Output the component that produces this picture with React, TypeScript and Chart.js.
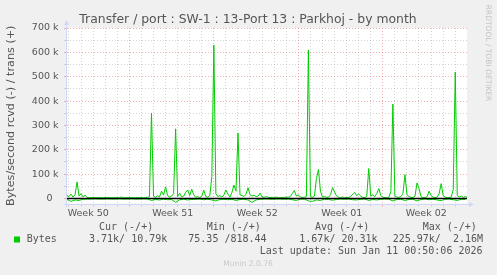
import React, { useEffect, useRef } from 'react';
import { Chart, registerables } from 'chart.js';

Chart.register(...registerables);

const TITLE = 'Transfer / port : SW-1 : 13-Port 13 : Parkhoj - by month';
const Y_TITLE = 'Bytes/second rcvd (-) / trans (+)';
const SIDE_TEXT = 'RRDTOOL / TOBI OETIKER';
const FOOTER = 'Munin 2.0.76';
const LAST_UPDATE = 'Last update: Sun Jan 11 00:50:06 2026';

// x axis in days counted from Monday 8 Dec 2025 (start of Week 50)
const X_MIN = 1.84;
const X_MAX = 34.98;
const WEEK_LABELS = ['Week 50', 'Week 51', 'Week 52', 'Week 01', 'Week 02'];
const WEEK_LABEL_POS = [3.6, 10.6, 17.6, 24.6, 31.6];

// y ticks (k bytes/s)
const Y_MIN = -20.5;
const Y_MAX = 700;
const Y_TICKS = [0, 50, 100, 150, 200, 250, 300, 350, 400, 450, 500, 550, 600, 650, 700];

// trans (+), one value every 4 hours, in kB/s
const TRANS_STEP = 1 / 6;
const TRANS_K = [
  12, 8, 18, 6, 15, 68, 10, 20, 6, 14,
  4, 3, 4, 3, 4, 3, 4, 3, 3, 4,
  3, 4, 3, 3, 4, 3, 3, 6, 4, 3,
  4, 3, 4, 3, 3, 4, 3, 4, 3, 3,
  5, 8, 351, 10, 4, 12, 6, 30, 14, 48,
  12, 6, 10, 20, 286, 8, 22, 6, 10, 25,
  35, 12, 38, 15, 5, 8, 4, 10, 34, 8,
  6, 12, 91, 630, 20, 8, 12, 6, 15, 35,
  18, 6, 25, 55, 30, 269, 15, 12, 8, 18,
  44, 15, 10, 14, 8, 10, 22, 6, 5, 8,
  5, 4, 5, 3, 6, 4, 3, 5, 4, 6,
  5, 8, 20, 33, 10, 15, 6, 4, 5, 8,
  610, 8, 5, 10, 82, 119, 30, 6, 8, 5,
  6, 15, 45, 27, 10, 5, 4, 6, 3, 5,
  4, 8, 18, 25, 12, 18, 10, 5, 4, 8,
  123, 10, 15, 8, 20, 41, 12, 5, 4, 3,
  5, 30, 388, 10, 6, 5, 8, 20, 98, 15,
  8, 5, 4, 10, 64, 41, 8, 4, 3, 8,
  30, 12, 5, 4, 6, 20, 61, 12, 5, 3,
  4, 6, 37, 519, 12, 6, 10, 4, 8, 5,
];

// rcvd (-), one value every 8 hours, in kB/s
const RCVD_STEP = 1 / 3;
const RCVD_K = [
  -4, -12, -6, -8, -3, -2, -2, -1, -2, -2,
  -1, -2, -2, -1, -2, -2, -1, -2, -2, -1,
  -2, -8, -4, -6, -3, -5, -4, -16, -5, -3,
  -6, -4, -3, -2, -5, -3, -6, -10, -4, -3,
  -5, -3, -8, -4, -3, -6, -16, -6, -3, -2,
  -2, -3, -2, -2, -3, -2, -5, -8, -3, -2,
  -10, -12, -6, -8, -3, -4, -7, -4, -2, -3,
  -2, -5, -6, -3, -2, -8, -4, -6, -3, -2,
  -3, -10, -4, -3, -8, -4, -3, -10, -4, -2,
  -5, -3, -6, -9, -3, -2, -5, -8, -3, -4,
];

const SERIES_NAME = 'Bytes';
const SERIES_COLOR = '#00cc00';
const LEGEND_HEADERS = ['Cur (-/+)', 'Min (-/+)', 'Avg (-/+)', 'Max (-/+)'];
const LEGEND_VALUES = ['3.71k/ 10.79k', '75.35 /818.44', '1.67k/ 20.31k', '225.97k/  2.16M'];

const GRID_MINOR = 'rgba(175,175,175,0.55)';
const GRID_MAJOR = 'rgba(235,120,120,0.6)';
const AXIS_COLOR = '#cfd6f8';
const FONT_COLOR = '#555555';

const SANS = '"DejaVu Sans", sans-serif';
const MONO = '"DejaVu Sans Mono", monospace';

const decor = {
  id: 'decor',
  beforeDraw(chart: any) {
    const { ctx, chartArea: a } = chart;
    ctx.save();
    ctx.fillStyle = '#f0f0f0';
    ctx.fillRect(0, 0, chart.width, chart.height);
    ctx.fillStyle = '#ffffff';
    ctx.fillRect(a.left, a.top, a.right - a.left, a.bottom - a.top);
    ctx.restore();
  },
  afterDatasetsDraw(chart: any) {
    const { ctx, chartArea: a } = chart;
    const y0 = chart.scales.y.getPixelForValue(0);
    ctx.save();
    ctx.strokeStyle = '#000000';
    ctx.lineWidth = 1.5;
    ctx.beginPath();
    ctx.moveTo(a.left, y0);
    ctx.lineTo(a.right, y0);
    ctx.stroke();
    ctx.restore();
  },
  afterDraw(chart: any) {
    const { ctx, chartArea: a } = chart;
    ctx.save();
    // axes with arrows
    ctx.strokeStyle = AXIS_COLOR;
    ctx.fillStyle = AXIS_COLOR;
    ctx.lineWidth = 1;
    const lx = Math.round(a.left) - 0.5;
    const by = Math.round(a.bottom) + 0.5;
    ctx.beginPath();
    ctx.moveTo(lx, by + 3);
    ctx.lineTo(lx, a.top - 4);
    ctx.moveTo(lx - 3, by);
    ctx.lineTo(a.right + 3, by);
    ctx.stroke();
    ctx.beginPath();
    ctx.moveTo(lx - 2.5, a.top - 3);
    ctx.lineTo(lx + 2.5, a.top - 3);
    ctx.lineTo(lx, a.top - 8);
    ctx.closePath();
    ctx.fill();
    ctx.beginPath();
    ctx.moveTo(a.right + 2, by - 2.5);
    ctx.lineTo(a.right + 2, by + 2.5);
    ctx.lineTo(a.right + 7, by);
    ctx.closePath();
    ctx.fill();

    // title
    ctx.fillStyle = FONT_COLOR;
    ctx.textBaseline = 'middle';
    ctx.textAlign = 'center';
    ctx.font = `12.4px ${SANS}`;
    ctx.fillText(TITLE, 248, 19.5);

    // y title
    ctx.save();
    ctx.translate(11.5, (a.top + a.bottom) / 2);
    ctx.rotate(-Math.PI / 2);
    ctx.font = `11.2px ${SANS}`;
    ctx.fillText(Y_TITLE, 0, 0);
    ctx.restore();

    // side text
    ctx.save();
    ctx.translate(488, 53);
    ctx.rotate(Math.PI / 2);
    ctx.fillStyle = '#c4c4c4';
    ctx.font = `7.5px ${SANS}`;
    ctx.fillText(SIDE_TEXT, 0, 0);
    ctx.restore();

    // legend
    ctx.font = `10px ${MONO}`;
    ctx.textAlign = 'left';
    ctx.fillStyle = FONT_COLOR;
    const headX = [99, 206.7, 315, 422.7];
    LEGEND_HEADERS.forEach((h, i) => ctx.fillText(h, headX[i], 227.7));
    ctx.fillStyle = SERIES_COLOR;
    ctx.fillRect(14, 236.5, 6, 6);
    ctx.fillStyle = FONT_COLOR;
    ctx.fillText(SERIES_NAME, 26.7, 239.5);
    const valX = [89, 188.3, 299.3, 392.7];
    LEGEND_VALUES.forEach((v, i) => ctx.fillText(v, valX[i], 239.5));
    ctx.textAlign = 'right';
    ctx.fillText(LAST_UPDATE, 482.5, 251);

    ctx.textAlign = 'center';
    ctx.fillStyle = '#c8c8c8';
    ctx.font = `7.6px ${SANS}`;
    ctx.fillText(FOOTER, 248, 264.3);
    ctx.restore();
  },
};

export default function App() {
  const ref = useRef<HTMLCanvasElement | null>(null);

  useEffect(() => {
    const canvas = ref.current;
    if (!canvas) return;
    const xTicks: number[] = [];
    for (let d = Math.ceil(X_MIN); d <= Math.floor(X_MAX); d++) xTicks.push(d);
    WEEK_LABEL_POS.forEach((p) => xTicks.push(p));
    xTicks.sort((p, q) => p - q);

    const chart = new Chart(canvas, {
      type: 'line',
      data: {
        datasets: [
          {
            label: 'rcvd',
            data: RCVD_K.map((v, i) => ({ x: X_MIN + i * RCVD_STEP, y: v })),
            borderColor: SERIES_COLOR,
            borderWidth: 1,
            pointRadius: 0,
            tension: 0,
          },
          {
            label: 'trans',
            data: TRANS_K.map((v, i) => ({ x: X_MIN + i * TRANS_STEP, y: v })),
            borderColor: SERIES_COLOR,
            borderWidth: 1,
            pointRadius: 0,
            tension: 0,
          },
        ],
      },
      options: {
        animation: false,
        responsive: false,
        events: [],
        layout: { padding: { left: 7, top: 28, right: 30, bottom: 51.5 } },
        plugins: {
          legend: { display: false },
          tooltip: { enabled: false },
          title: { display: false },
        },
        scales: {
          x: {
            type: 'linear',
            min: X_MIN,
            max: X_MAX,
            afterBuildTicks: (s: any) => {
              s.ticks = xTicks.map((v) => ({ value: v }));
            },
            afterFit: (s: any) => {
              s.height = 20;
            },
            grid: {
              color: (c: any) => {
                const v = c.tick ? c.tick.value : 0;
                if (!Number.isInteger(v)) return 'rgba(0,0,0,0)';
                return v % 7 === 0 ? GRID_MAJOR : GRID_MINOR;
              },
              lineWidth: 1,
              drawTicks: true,
              tickLength: 3,
            },
            border: { display: false, dash: [1, 2] },
            ticks: {
              autoSkip: false,
              maxRotation: 0,
              minRotation: 0,
              padding: 1,
              color: FONT_COLOR,
              font: { family: SANS, size: 9.5 },
              callback: (v: any) => {
                const i = WEEK_LABEL_POS.indexOf(Number(v));
                return i >= 0 ? WEEK_LABELS[i] : '';
              },
            },
          },
          y: {
            type: 'linear',
            min: Y_MIN,
            max: Y_MAX,
            afterBuildTicks: (s: any) => {
              s.ticks = Y_TICKS.map((v) => ({ value: v }));
            },
            afterFit: (s: any) => {
              s.width = 60;
            },
            grid: {
              color: (c: any) => {
                const v = c.tick ? c.tick.value : 0;
                return v % 100 === 0 ? GRID_MAJOR : GRID_MINOR;
              },
              lineWidth: 1,
              drawTicks: true,
              tickLength: 3,
            },
            border: { display: false, dash: [1, 2] },
            ticks: {
              autoSkip: false,
              padding: 5.5,
              color: FONT_COLOR,
              font: { family: SANS, size: 9.5 },
              callback: (v: any) => {
                const n = Number(v);
                if (n % 100 !== 0) return '';
                return n === 0 ? '0  ' : `${n} k`;
              },
            },
          },
        },
      },
      plugins: [decor],
    });
    return () => chart.destroy();
  }, []);

  return (
    <div style={{ position: 'fixed', left: 0, top: 0, width: 497, height: 275 }}>
      <canvas ref={ref} width={497} height={275} />
    </div>
  );
}
